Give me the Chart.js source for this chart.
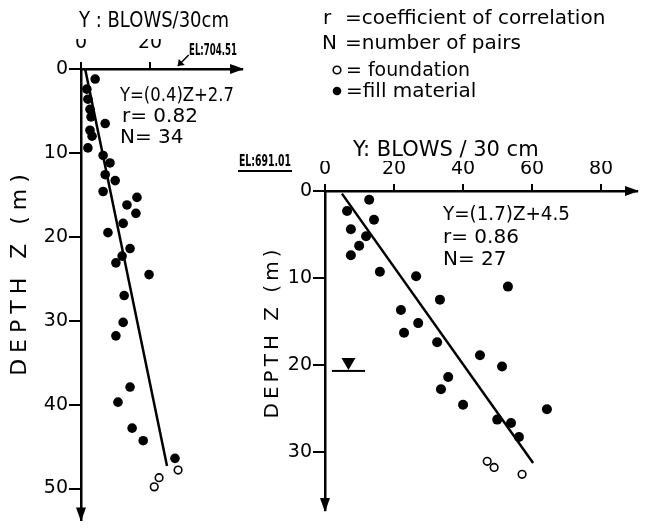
<!DOCTYPE html>
<html>
<head>
<meta charset="utf-8">
<script src="https://cdn.jsdelivr.net/npm/chart.js@4.4.1/dist/chart.umd.min.js"></script>
<style>
body{margin:0;background:#fff;}
#wrap{position:relative;width:670px;height:532px;}
canvas{position:absolute;left:0;top:0;}
</style>
</head>
<body>
<div id="wrap">
  <canvas id="leftChart" width="670" height="532"></canvas>
  <canvas id="rightChart" width="670" height="532"></canvas>
</div>
<script>
// site 1, EL 704.51  (Y = blows/30cm, Z = depth m)
var leftFillBlows = [4.1, 1.7, 2.0, 2.6, 2.9, 7.0, 2.6, 3.2, 2.0, 6.4, 8.4, 7.0, 9.9, 6.4, 16.2, 13.3,
  15.9, 12.2, 7.8, 14.2, 11.9, 10.1, 19.7, 12.5, 12.2, 10.1, 14.2, 10.7, 14.8, 18.0, 27.2];
var leftFillDepth = [1.2, 2.4, 3.6, 4.8, 5.7, 6.5, 7.3, 8.0, 9.4, 10.3, 11.2, 12.6, 13.3, 14.6, 15.3, 16.2,
  17.2, 18.4, 19.5, 21.4, 22.3, 23.1, 24.5, 27.0, 30.2, 31.8, 37.9, 39.7, 42.8, 44.3, 46.4];
var leftFoundBlows = [28.1, 22.6, 21.2];
var leftFoundDepth = [47.8, 48.7, 49.8];
var leftLineBlows = [1.2, 24.9];
var leftLineDepth = [0, 47.3];
var leftBlowTicks = [0, 20];
var leftDepthTicks = [0, 10, 20, 30, 40, 50];

// site 2, EL 691.01
var rightFillBlows = [12.8, 6.4, 14.2, 7.5, 11.9, 9.9, 7.5, 15.9, 26.4, 33.3, 53.0, 22.0, 27.0, 22.9,
  32.5, 44.9, 51.3, 35.7, 33.6, 40.0, 64.3, 49.9, 53.9, 56.2];
var rightFillDepth = [1.0, 2.3, 3.3, 4.4, 5.2, 6.3, 7.4, 9.3, 9.8, 12.5, 11.0, 13.7, 15.2, 16.3,
  17.4, 18.9, 20.2, 21.4, 22.8, 24.6, 25.1, 26.3, 26.7, 28.3];
var rightFoundBlows = [47.0, 49.0, 57.1];
var rightFoundDepth = [31.1, 31.8, 32.6];
var rightLineBlows = [4.9, 60.3];
var rightLineDepth = [0.3, 31.3];
var rightBlowTicks = [0, 20, 40, 60, 80];
var rightDepthTicks = [0, 10, 20, 30];
var waterTableDepth = 20.7;
var waterTableBlows = [2.0, 11.6];

var FONT = '"DejaVu Sans", "Liberation Sans", sans-serif';

function pts(xs, ys){
  return xs.map(function(x, i){ return {x: x, y: ys[i]}; });
}

function txt(ctx, s, x, y, size, maxW, weight){
  ctx.font = (weight || 'normal') + ' ' + size + 'px ' + FONT;
  ctx.fillStyle = '#000';
  ctx.textAlign = 'left';
  ctx.textBaseline = 'alphabetic';
  if(maxW) ctx.fillText(s, x, y, maxW);
  else ctx.fillText(s, x, y);
}

function vtxt(ctx, s, cx, cy, size, len, spacing){
  ctx.save();
  ctx.translate(cx, cy);
  ctx.rotate(-Math.PI / 2);
  ctx.font = size + 'px ' + FONT;
  ctx.letterSpacing = spacing + 'px';
  ctx.fillStyle = '#000';
  ctx.textAlign = 'center';
  ctx.textBaseline = 'middle';
  ctx.fillText(s, 0, 0, len);
  ctx.restore();
}

function arrowHead(ctx, x, y, dir){
  ctx.beginPath();
  if(dir == 'right'){
    ctx.moveTo(x, y); ctx.lineTo(x - 14, y - 5); ctx.lineTo(x - 14, y + 5);
  } else {
    ctx.moveTo(x, y); ctx.lineTo(x - 5, y - 14); ctx.lineTo(x + 5, y - 14);
  }
  ctx.closePath();
  ctx.fillStyle = '#000';
  ctx.fill();
}

var axisArrows = {
  id: 'axisArrows',
  afterDraw: function(chart){
    var ctx = chart.ctx, a = chart.chartArea;
    arrowHead(ctx, a.right + 2, a.top, 'right');
    arrowHead(ctx, a.left, a.bottom + 2, 'down');
  }
};

function blowAxis(max, ticks, pad){
  return {
    type: 'linear', position: 'top', min: 0, max: max,
    afterBuildTicks: function(s){ s.ticks = ticks.map(function(v){ return {value: v}; }); },
    afterFit: function(s){ s.height = 30; },
    grid: {drawOnChartArea: false, color: '#000', lineWidth: 2, tickLength: 7},
    border: {color: '#000', width: 2.5},
    ticks: {color: '#000', padding: pad, maxRotation: 0, autoSkip: false, font: {family: FONT, size: 19}}
  };
}

function depthAxis(max, ticks){
  return {
    type: 'linear', position: 'left', reverse: true, min: 0, max: max,
    afterBuildTicks: function(s){ s.ticks = ticks.map(function(v){ return {value: v}; }); },
    afterFit: function(s){ s.width = 40; },
    grid: {drawOnChartArea: false, color: '#000', lineWidth: 2, tickLength: 12},
    border: {color: '#000', width: 2.5},
    ticks: {color: '#000', padding: 1, autoSkip: false, font: {family: FONT, size: 19}}
  };
}

function sets(fb, fd, ob, od, lb, ld, r){
  return [
    {type: 'line', data: pts(lb, ld), borderColor: '#000', borderWidth: 2.5, pointRadius: 0, showLine: true, clip: false},
    {data: pts(fb, fd), pointRadius: r, backgroundColor: '#000', borderColor: '#000', borderWidth: 0, clip: false},
    {data: pts(ob, od), pointRadius: 3.8, backgroundColor: '#fff', borderColor: '#000', borderWidth: 1.6, clip: false}
  ];
}

// left chart + its texts
var leftText = {
  id: 'leftText',
  afterDraw: function(chart){
    var ctx = chart.ctx, x = chart.scales.x, y = chart.scales.y;
    txt(ctx, 'Y : BLOWS/30cm', 79, 27, 21, 150);
    txt(ctx, 'EL:704.51', 189, 55, 15, 48, 'bold');
    // little arrow pointing at the ground line
    var tx = x.getPixelForValue(28), ty = y.getPixelForValue(0) - 3;
    ctx.beginPath();
    ctx.moveTo(tx + 11, ty - 11); ctx.lineTo(tx, ty);
    ctx.strokeStyle = '#000'; ctx.lineWidth = 1.5; ctx.stroke();
    ctx.beginPath();
    ctx.moveTo(tx, ty); ctx.lineTo(tx + 1, ty - 7); ctx.lineTo(tx + 7, ty - 1); ctx.closePath();
    ctx.fill();
    txt(ctx, 'Y=(0.4)Z+2.7', 120, 101, 20, 114);
    txt(ctx, 'r= 0.82', 122, 122, 20, 80);
    txt(ctx, 'N= 34', 120, 143, 20, 66);
    vtxt(ctx, 'DEPTH Z (m)', 20, 272, 22, 228, 6);
  }
};

new Chart(document.getElementById('leftChart'), {
  type: 'scatter',
  data: {datasets: sets(leftFillBlows, leftFillDepth, leftFoundBlows, leftFoundDepth, leftLineBlows, leftLineDepth, 4.8)},
  options: {
    responsive: false, animation: false, devicePixelRatio: 1,
    layout: {padding: {left: 41, top: 39, right: 428, bottom: 2}},
    scales: {x: blowAxis(46.6, leftBlowTicks, 8), y: depthAxis(53.7, leftDepthTicks)},
    plugins: {legend: {display: false}, tooltip: {enabled: false}}
  },
  plugins: [axisArrows, leftText]
});

// right chart + legend
var rightText = {
  id: 'rightText',
  afterDraw: function(chart){
    var ctx = chart.ctx, x = chart.scales.x, y = chart.scales.y;
    txt(ctx, 'Y: BLOWS / 30 cm', 353, 156, 21, 210);
    txt(ctx, 'EL:691.01', 239, 166, 16, 52, 'bold');
    ctx.fillRect(238, 170, 54, 2);
    txt(ctx, 'Y=(1.7)Z+4.5', 443, 220, 20, 127);
    txt(ctx, 'r= 0.86', 443, 243, 20, 87);
    txt(ctx, 'N= 27', 443, 265, 20, 67);
    vtxt(ctx, 'DEPTH Z (m)', 273, 332, 20, 175, 4);

    // water table
    var wy = y.getPixelForValue(waterTableDepth);
    ctx.fillRect(x.getPixelForValue(waterTableBlows[0]), wy - 1, x.getPixelForValue(waterTableBlows[1]) - x.getPixelForValue(waterTableBlows[0]), 2);
    var wx = (x.getPixelForValue(waterTableBlows[0]) + x.getPixelForValue(waterTableBlows[1])) / 2;
    ctx.beginPath();
    ctx.moveTo(wx - 7, wy - 13); ctx.lineTo(wx + 7, wy - 13); ctx.lineTo(wx, wy - 1); ctx.closePath();
    ctx.fill();

    // legend
    txt(ctx, 'r', 323, 24, 20);
    txt(ctx, '=coefficient of correlation', 345, 24, 20, 323);
    txt(ctx, 'N', 322, 49, 20);
    txt(ctx, '=number of pairs', 345, 49, 20, 200);
    ctx.beginPath(); ctx.arc(337, 70, 3.8, 0, Math.PI * 2);
    ctx.lineWidth = 1.6; ctx.strokeStyle = '#000'; ctx.stroke();
    txt(ctx, '= foundation', 346, 76, 20, 124);
    ctx.beginPath(); ctx.arc(337, 91, 4.3, 0, Math.PI * 2); ctx.fill();
    txt(ctx, '=fill material', 346, 97, 20, 142);
  }
};

new Chart(document.getElementById('rightChart'), {
  type: 'scatter',
  data: {datasets: sets(rightFillBlows, rightFillDepth, rightFoundBlows, rightFoundDepth, rightLineBlows, rightLineDepth, 5)},
  options: {
    responsive: false, animation: false, devicePixelRatio: 1,
    layout: {padding: {left: 285, top: 161, right: 33, bottom: 22}},
    scales: {x: blowAxis(90.4, rightBlowTicks, 4), y: depthAxis(36.7, rightDepthTicks)},
    plugins: {legend: {display: false}, tooltip: {enabled: false}}
  },
  plugins: [axisArrows, rightText]
});
</script>
</body>
</html>
